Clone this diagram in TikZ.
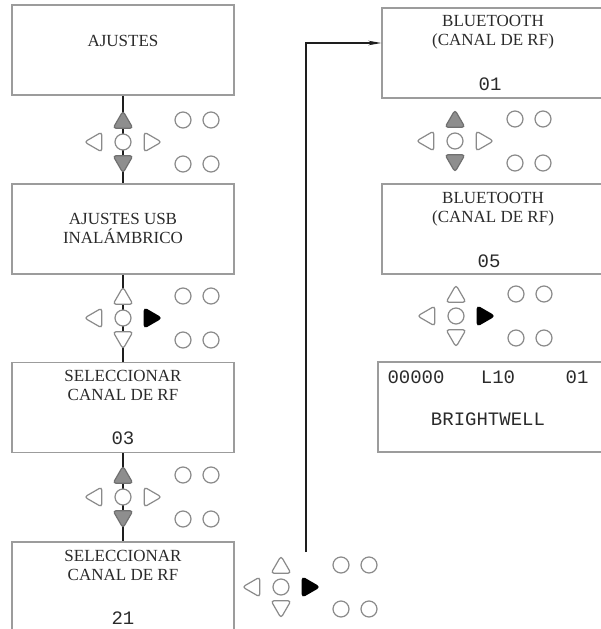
\documentclass[tikz,border=0pt]{standalone}
\usepackage{fontspec}
\setmainfont{Liberation Serif}
\setmonofont{Liberation Mono}
\usetikzlibrary{shapes.geometric, arrows.meta}

\definecolor{boxgray}{HTML}{9C9C9C}
\definecolor{keygray}{HTML}{8A8A8A}
\definecolor{keyfill}{HTML}{8E8E8E}
\definecolor{keydark}{HTML}{707070}
\definecolor{textgray}{HTML}{2A2A2A}
\definecolor{linkdark}{HTML}{1E1E1E}

% keypad: name, centre, up/down style, right style
\newcommand{\keypad}[4]{%
  \begin{scope}[shift={#2}]
    \node[kcirc] (#1-ok) at (0,0) {};
    \node[ktri=0, #3] (#1-up) at (0,-19.5) {};
    \node[ktri=180, #3] (#1-dn) at (0,19.5) {};
    \node[ktri=90] (#1-lt) at (-27,0) {};
    \node[ktri=270, #4] (#1-rt) at (27,0) {};
    \foreach \i/\dx/\dy in {a/60/-22, b/88/-22, c/60/22, d/88/22}
      \node[kcirc] (#1-\i) at (\dx,\dy) {};
  \end{scope}}

\begin{document}
\begin{tikzpicture}[x=1pt, y=-1pt,
    panel/.style={draw=boxgray, line width=1.2pt, minimum width=222pt, minimum height=90pt, inner sep=0pt},
    title/.style={font=\fontsize{17}{19}\selectfont, align=center, anchor=north, inner sep=0pt, text=textgray},
    lcd/.style={font=\ttfamily\fontsize{19}{22}\selectfont, anchor=north, inner sep=0pt, text=textgray},
    key/.style={draw=keygray, line width=1.2pt, fill=white, inner sep=0pt},
    kcirc/.style={key, circle, minimum size=16pt},
    ktri/.style={key, regular polygon, regular polygon sides=3, minimum size=23pt, rounded corners=3pt, shape border rotate=#1},
    pressed/.style={fill=keyfill, draw=keydark},
    active/.style={fill=black, draw=black},
    link/.style={draw=linkdark, line width=2pt},
  ]
  \useasboundingbox (0,0) rectangle (601,629);
  \clip (0,0) rectangle (601,629);

  % --- left column: menu screens ---
  \node[panel] (b1) at (123,50) {};
  \node[panel] (b2) at (123,229) {};
  \node[panel] (b3) at (123,407.5) {};
  \node[panel] (b4) at (123,587) {};
  \node[title] (t1) at (123,35) {AJUSTES};
  \node[title] (t2) at (123,213) {AJUSTES USB\\INALÁMBRICO};
  \node[title] (t3) at (123,370) {SELECCIONAR\\CANAL DE RF};
  \node[lcd] (n3) at (123,432) {03};
  \node[title] (t4) at (123,550) {SELECCIONAR\\CANAL DE RF};
  \node[lcd] (n4) at (123,612) {21};

  % --- right column: bluetooth screens ---
  \node[panel] (r1) at (493,53) {};
  \node[panel] (r2) at (493,229) {};
  \node[panel, minimum width=226pt] (r3) at (491,407) {};
  \node[title] (tr1) at (493,15) {BLUETOOTH\\(CANAL DE RF)};
  \node[lcd] (nr1) at (490,78) {01};
  \node[title] (tr2) at (493,192) {BLUETOOTH\\(CANAL DE RF)};
  \node[lcd] (nr2) at (489,255) {05};
  \node[lcd] (cnt) at (416,371) {00000};
  \node[lcd] (lvl) at (498,371) {L10};
  \node[lcd] (chn) at (577,371) {01};
  \node[lcd] (brand) at (488,413) {BRIGHTWELL};

  % --- connectors ---
  \draw[link] (b1) -- (b2);
  \draw[link] (b2) -- (b3);
  \draw[link] (b3) -- (b4);
  \coordinate (kout) at (306,552);
  \draw[link, line width=1.7pt, -{Stealth[length=13pt, width=4.5pt]}] (kout) |- ([yshift=10pt]r1.west);

  % --- keypads ---
  \keypad{k1}{(123,142)}{pressed}{}
  \keypad{k2}{(123,318)}{}{active}
  \keypad{k3}{(123,497)}{pressed}{}
  \keypad{k4}{(281,587)}{}{active}
  \keypad{kr1}{(455,141)}{pressed}{}
  \keypad{kr2}{(456,316)}{}{active}
\end{tikzpicture}
\end{document}
